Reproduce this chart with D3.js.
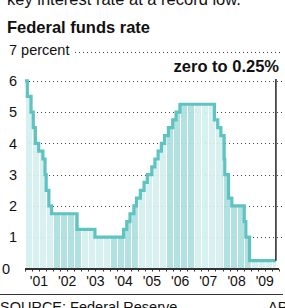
<!DOCTYPE html>
<html>
<head>
<meta charset="utf-8">
<script src="https://cdn.jsdelivr.net/npm/d3@7"></script>
<style>
body { margin: 0; background: #fff; overflow: hidden; }
svg { display: block; font-family: "Liberation Sans", Arial, sans-serif; }
</style>
</head>
<body>
<script>
const svgWidth = 285;
const svgHeight = 308;

// target rate changes, each rate holds until the next date
const changeDates = [
    "2001-01-01", "2001-01-31", "2001-03-20", "2001-04-18", "2001-05-15", "2001-06-27",
    "2001-08-21", "2001-09-17", "2001-10-02", "2001-11-06", "2001-12-11", "2002-11-06",
    "2003-06-25", "2004-06-30", "2004-08-10", "2004-09-21", "2004-11-10", "2004-12-14",
    "2005-02-02", "2005-03-22", "2005-05-03", "2005-06-30", "2005-08-09", "2005-09-20",
    "2005-11-01", "2005-12-13", "2006-01-31", "2006-03-28", "2006-05-10", "2006-06-29",
    "2007-09-18", "2007-10-31", "2007-12-11", "2008-01-22", "2008-01-30", "2008-03-18",
    "2008-04-30", "2008-10-08", "2008-10-29", "2008-12-16", "2009-11-22"
];
const rates = [
    6.0, 5.5, 5.0, 4.5, 4.0, 3.75,
    3.5, 3.0, 2.5, 2.0, 1.75, 1.25,
    1.0, 1.25, 1.5, 1.75, 2.0, 2.25,
    2.5, 2.75, 3.0, 3.25, 3.5, 3.75,
    4.0, 4.25, 4.5, 4.75, 5.0, 5.25,
    4.75, 4.5, 4.25, 3.5, 3.0, 2.25,
    2.0, 1.5, 1.0, 0.25, 0.25
];
const years = [2001, 2002, 2003, 2004, 2005, 2006, 2007, 2008, 2009];
const yearLabels = ["'01", "'02", "'03", "'04", "'05", "'06", "'07", "'08", "'09"];
const yTicks = [0, 1, 2, 3, 4, 5, 6];
const yMax = 7;

const parse = d3.timeParse("%Y-%m-%d");
const data = changeDates.map((d, i) => ({date: parse(d), rate: rates[i]}));

const x = d3.scaleTime()
    .domain([new Date(2001, 0, 1), new Date(2010, 0, 1)])
    .range([25, 279]);
const y = d3.scaleLinear().domain([0, yMax]).range([268.5, 49.5]);

const svg = d3.select("body").append("svg").attr("width", svgWidth).attr("height", svgHeight);

// header
svg.append("text").attr("x", 7).attr("y", 4.5)
    .attr("font-size", 16.5).attr("fill", "#111")
    .text("key interest rate at a record low.");
svg.append("text").attr("x", 7).attr("y", 33)
    .attr("font-size", 16.5).attr("font-weight", "bold").attr("fill", "#111")
    .text("Federal funds rate");

// gridlines
const grid = svg.append("g")
    .attr("stroke", "#444")
    .attr("stroke-width", 1)
    .attr("stroke-dasharray", "1,3");
grid.selectAll("line").data(yTicks.filter(v => v > 0)).join("line")
    .attr("x1", 25).attr("x2", 283)
    .attr("y1", d => Math.round(y(d)) + 0.5).attr("y2", d => Math.round(y(d)) + 0.5);
grid.append("line").attr("x1", 75).attr("x2", 283)
    .attr("y1", Math.round(y(yMax)) + 2.5).attr("y2", Math.round(y(yMax)) + 2.5);

svg.append("text").attr("x", 9).attr("y", y(yMax)).attr("dy", "0.35em")
    .attr("font-size", 14.5).attr("fill", "#111")
    .text("7 percent");

// y labels
svg.selectAll(".ylab").data(yTicks).join("text")
    .attr("class", "ylab")
    .attr("x", d => d === 0 ? 2 : 9)
    .attr("y", d => y(d)).attr("dy", "0.36em")
    .attr("font-size", 14.5).attr("fill", "#111")
    .text(d => d);

// area fill clipped to the step curve
const area = d3.area().curve(d3.curveStepAfter)
    .x(d => x(d.date)).y0(y(0)).y1(d => y(d.rate));
svg.append("clipPath").attr("id", "under").append("path").attr("d", area(data));

const fill = svg.append("g").attr("clip-path", "url(#under)");
fill.selectAll("rect").data(years).join("rect")
    .attr("x", d => x(new Date(d, 0, 1)))
    .attr("width", d => x(new Date(d + 1, 0, 1)) - x(new Date(d, 0, 1)))
    .attr("y", y(yMax)).attr("height", y(0) - y(yMax))
    .attr("fill", d => d % 2 === 0 ? "#a9dedd" : "#d3efee")
    .attr("fill-opacity", 0.9);
fill.selectAll("line").data(d3.timeMonth.every(3).range(new Date(2001, 0, 1), new Date(2010, 0, 1))).join("line")
    .attr("x1", d => Math.round(x(d)) + 0.5).attr("x2", d => Math.round(x(d)) + 0.5)
    .attr("y1", y(yMax)).attr("y2", y(0))
    .attr("stroke", "#fff").attr("stroke-width", 1);

// step line
const line = d3.line().curve(d3.curveStepAfter)
    .x(d => x(d.date)).y(d => y(d.rate));
svg.append("path").attr("d", line(data))
    .attr("fill", "none").attr("stroke", "#5fc3c1").attr("stroke-width", 3.2);

// marker for the current level
const last = data[data.length - 1];
svg.append("line")
    .attr("x1", x(last.date)).attr("x2", x(last.date))
    .attr("y1", 79).attr("y2", y(last.rate))
    .attr("stroke", "#222").attr("stroke-width", 1.5);
svg.append("text").attr("x", 279).attr("y", 72)
    .attr("text-anchor", "end").attr("font-size", 16.5).attr("font-weight", "bold").attr("fill", "#111")
    .text("zero to 0.25%");

// x axis
svg.append("line").attr("x1", 25).attr("x2", 279)
    .attr("y1", y(0) + 0.5).attr("y2", y(0) + 0.5)
    .attr("stroke", "#333").attr("stroke-width", 2);
svg.append("g").selectAll("line")
    .data(d3.timeMonth.every(3).range(new Date(2001, 0, 1), new Date(2010, 0, 2))).join("line")
    .attr("x1", d => Math.round(x(d)) + 0.5).attr("x2", d => Math.round(x(d)) + 0.5)
    .attr("y1", y(0) + 1).attr("y2", y(0) + 3)
    .attr("stroke", "#333").attr("stroke-width", 1);
svg.selectAll(".xlab").data(years).join("text")
    .attr("class", "xlab")
    .attr("x", d => x(new Date(d, 6, 1)))
    .attr("y", 285.5)
    .attr("text-anchor", "middle").attr("font-size", 14).attr("fill", "#111")
    .text((d, i) => yearLabels[i]);

// footer
svg.append("line").attr("x1", 0).attr("x2", 283).attr("y1", 294.5).attr("y2", 294.5)
    .attr("stroke", "#333").attr("stroke-width", 1);
svg.append("text").attr("x", 0).attr("y", 311.5)
    .attr("font-size", 14.5).attr("fill", "#111")
    .text("SOURCE: Federal Reserve");
svg.append("text").attr("x", 268).attr("y", 311.5)
    .attr("font-size", 14.5).attr("fill", "#111")
    .text("AP");
</script>
</body>
</html>
